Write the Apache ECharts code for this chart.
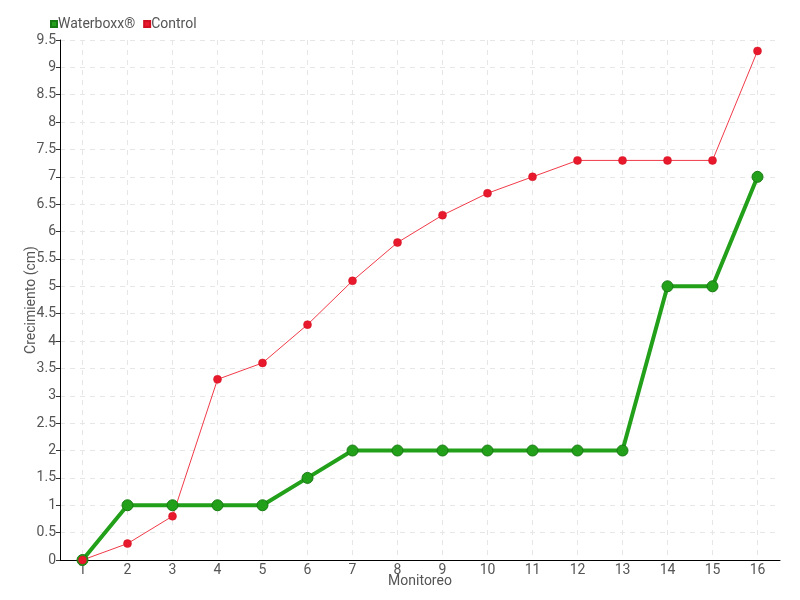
<!DOCTYPE html>
<html><head><meta charset="utf-8">
<script src="https://cdn.jsdelivr.net/npm/echarts@6/dist/echarts.min.js"></script>
<style>html,body{margin:0;padding:0;background:#fff}#c{width:800px;height:600px}</style>
</head><body><div id="c"></div>
<script>
const categories = ['1','2','3','4','5','6','7','8','9','10','11','12','13','14','15','16'];
const waterboxx = [0,1,1,1,1,1.5,2,2,2,2,2,2,2,5,5,7];
const control = [0,0.3,0.8,3.3,3.6,4.3,5.1,5.8,6.3,6.7,7,7.3,7.3,7.3,7.3,9.3];
const FONT = 'Roboto, sans-serif';
const chart = echarts.init(document.getElementById('c'));
chart.setOption({
  animation: false,
  textStyle: {fontFamily: FONT},
  legend: {
    left: 45, top: 12, itemWidth: 6, itemHeight: 6, itemGap: 8,
    icon: 'rect',
    textStyle: {fontFamily: FONT, fontSize: 14, color: '#555', padding: [0,0,0,-4]},
    data: ['Waterboxx®', 'Control']
  },
  grid: {left: 60, right: 20, top: 40, bottom: 40},
  xAxis: {
    type: 'category', data: categories, boundaryGap: true,
    name: 'Monitoreo', nameLocation: 'middle', nameGap: 14, nameMoveOverlap: false,
    nameTextStyle: {fontFamily: FONT, fontSize: 14, color: '#555'},
    axisLine: {lineStyle: {color: '#000', width: 1}},
    axisTick: {alignWithLabel: true, length: 4, lineStyle: {color: '#333'}},
    axisLabel: {fontFamily: FONT, fontSize: 14, color: '#555', margin: 3},
    splitLine: {show: true, alignWithLabel: true, lineStyle: {color: '#e6e6e6', type: [5,5], width: 1}}
  },
  yAxis: {
    type: 'value', min: 0, max: 9.5, interval: 0.5,
    name: 'Crecimiento (cm)', nameLocation: 'middle', nameGap: 22, nameRotate: 90, nameMoveOverlap: false,
    nameTextStyle: {fontFamily: FONT, fontSize: 14, color: '#555'},
    axisLine: {show: true, lineStyle: {color: '#000', width: 1}},
    axisTick: {show: true, length: 4, lineStyle: {color: '#333'}},
    axisLabel: {fontFamily: FONT, fontSize: 14, color: '#555', margin: 4},
    splitLine: {show: true, lineStyle: {color: '#e6e6e6', type: [5,5], width: 1}}
  },
  series: [
    {
      name: 'Waterboxx®', type: 'line', data: waterboxx,
      symbol: 'circle', symbolSize: 11,
      lineStyle: {color: '#22a01a', width: 4},
      itemStyle: {color: '#22a01a', borderColor: '#177a12', borderWidth: 1}
    },
    {
      name: 'Control', type: 'line', data: control,
      symbol: 'circle', symbolSize: 8,
      lineStyle: {color: '#f03a48', width: 1},
      itemStyle: {color: '#e8192c', borderColor: '#d01020', borderWidth: 0.5}
    }
  ]
});
</script></body></html>
